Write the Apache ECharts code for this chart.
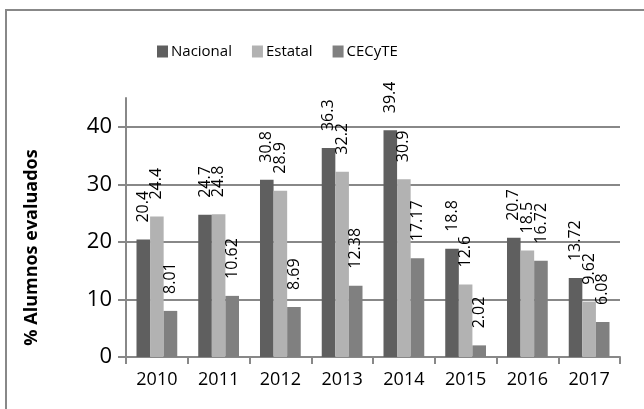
<!DOCTYPE html>
<html>
<head>
<meta charset="utf-8">
<script src="https://cdn.jsdelivr.net/npm/echarts@6/dist/echarts.min.js"></script>
<style>
  html, body { margin: 0; padding: 0; background: #fff; }
  #main { width: 644px; height: 409px; }
</style>
</head>
<body>
<div id="main"></div>
<script>
// datos
var years = ['2010', '2011', '2012', '2013', '2014', '2015', '2016', '2017'];
var nacional = [20.4, 24.7, 30.8, 36.3, 39.4, 18.8, 20.7, 13.72];
var estatal = [24.4, 24.8, 28.9, 32.2, 30.9, 12.6, 18.5, 9.62];
var cecyte = [8.01, 10.62, 8.69, 12.38, 17.17, 2.02, 16.72, 6.08];
var yTicks = [0, 10, 20, 30, 40];

var myChart = echarts.init(document.getElementById('main'));

function serie(name, data, color) {
  return {
    name: name,
    type: 'bar',
    data: data,
    barGap: '0%',
    barCategoryGap: '34%',
    itemStyle: { color: color },
    label: {
      show: true,
      position: 'top',
      distance: 17,
      rotate: 90,
      align: 'left',
      verticalAlign: 'middle',
      color: '#000',
      fontFamily: 'Open Sans',
      fontSize: 16
    }
  };
}

myChart.setOption({
  animation: false,
  graphic: [{
    type: 'rect',
    shape: { x: 6, y: 10, width: 660, height: 420 },
    style: { fill: 'none', stroke: '#888', lineWidth: 2 },
    silent: true
  }],
  legend: {
    data: ['Nacional', 'Estatal', 'CECyTE'],
    top: 39,
    left: 152,
    itemWidth: 11,
    itemHeight: 12,
    itemGap: 20,
    icon: 'rect',
    textStyle: { fontFamily: 'Open Sans', fontSize: 15, color: '#000', padding: [0, 0, 0, -2] }
  },
  grid: { left: 126, right: 24, top: 98, bottom: 52 },
  xAxis: {
    type: 'category',
    data: years,
    axisLine: { lineStyle: { color: '#888', width: 2 } },
    axisTick: { show: true, length: 7, lineStyle: { color: '#888', width: 2 } },
    axisLabel: { fontFamily: 'Open Sans', fontSize: 18, color: '#000', margin: 14 }
  },
  yAxis: {
    type: 'value',
    min: 0,
    max: 45,
    interval: 10,
    name: '% Alumnos evaluados',
    nameLocation: 'middle',
    nameGap: 85,
    nameTextStyle: {
      fontFamily: 'Open Sans', fontSize: 18, fontWeight: 'bold', color: '#000',
      padding: [0, 40, 0, 0]
    },
    axisLine: { show: true, lineStyle: { color: '#888', width: 2 } },
    axisTick: { show: true, length: 8, customValues: yTicks, lineStyle: { color: '#888', width: 2 } },
    axisLabel: { fontFamily: 'Open Sans', fontSize: 22, color: '#000', margin: 14, customValues: yTicks },
    splitLine: { show: true, lineStyle: { color: '#888', width: 2 } }
  },
  series: [
    serie('Nacional', nacional, '#5f5f5f'),
    serie('Estatal', estatal, '#b2b2b2'),
    serie('CECyTE', cecyte, '#808080')
  ]
});
</script>
</body>
</html>
